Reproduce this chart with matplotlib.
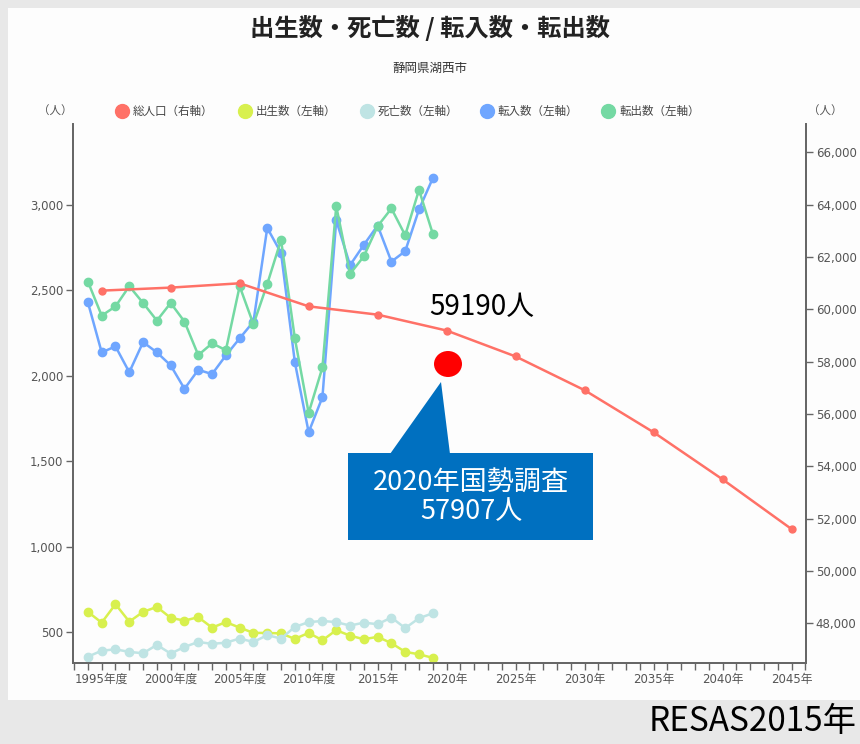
import matplotlib
matplotlib.use('Agg')
import matplotlib.pyplot as plt
from matplotlib.patches import Ellipse, Polygon, Rectangle
from matplotlib.lines import Line2D

plt.rcParams['font.family'] = ['DejaVu Sans', 'Noto Sans CJK JP']
JP = ['Noto Sans CJK JP', 'DejaVu Sans']
NARROW = ['Liberation Sans Narrow', 'Noto Sans CJK JP']

# annual data (left axis)
years = list(range(1994, 2020))
births = [619, 556, 664, 562, 619, 648, 584, 568, 588, 527, 559, 527, 496,
          496, 493, 461, 496, 453, 512, 480, 459, 473, 436, 385, 371, 350]
deaths = [357, 392, 400, 385, 377, 426, 375, 414, 443, 432, 439, 463, 443,
          483, 463, 531, 559, 566, 559, 539, 556, 547, 586, 524, 582, 611]
moved_in = [2430, 2137, 2172, 2021, 2197, 2137, 2061, 1924, 2035, 2010, 2119,
            2219, 2317, 2865, 2719, 2080, 1670, 1875, 2910, 2647, 2766, 2879,
            2668, 2729, 2973, 3156]
moved_out = [2551, 2352, 2406, 2524, 2426, 2323, 2426, 2317, 2121, 2190, 2150,
             2524, 2301, 2537, 2795, 2219, 1783, 2049, 2992, 2596, 2699, 2875,
             2979, 2822, 3088, 2830]

# total population (right axis)
pop_years = [1995, 2000, 2005, 2010, 2015, 2020, 2025, 2030, 2035, 2040, 2045]
population = [60716, 60831, 60996, 60115, 59797, 59190, 58200, 56909, 55301,
              53501, 51601]

tick_years = [1995, 2000, 2005, 2010, 2015, 2020, 2025, 2030, 2035, 2040, 2045]
tick_labels = ['1995年度', '2000年度', '2005年度', '2010年度', '2015年', '2020年',
               '2025年', '2030年', '2035年', '2040年', '2045年']

c_pop = '#ff7167'
c_birth = '#d8f04e'
c_death = '#bfe4e4'
c_in = '#6fa6ff'
c_out = '#74d9a3'
axis_c = '#666666'
text_c = '#555555'

fig = plt.figure(figsize=(8.6, 7.44), dpi=100)
fig.patch.set_facecolor('#e8e8e8')
fig.add_artist(Rectangle((8 / 860, 1 - 700 / 744), 852 / 860, 692 / 744,
                         transform=fig.transFigure, facecolor='#fdfdfd',
                         edgecolor='none', zorder=0))

ax = fig.add_axes([73 / 860, 1 - 663 / 744, 733 / 860, 539 / 744])
ax.set_facecolor('none')
ax2 = ax.twinx()

ax.plot(years, births, color=c_birth, lw=1.8, marker='o', ms=6, zorder=3)
ax.plot(years, deaths, color=c_death, lw=1.8, marker='o', ms=6, zorder=3)
ax.plot(years, moved_in, color=c_in, lw=1.8, marker='o', ms=6, zorder=3)
ax.plot(years, moved_out, color=c_out, lw=1.8, marker='o', ms=6, zorder=4)
ax2.plot(pop_years, population, color=c_pop, lw=1.8, marker='o', ms=5, zorder=5)

ax.set_xlim(1992.92, 2046.05)
ax.set_ylim(320, 3473)
ax2.set_ylim(46480, 67086)

ax.set_yticks([500, 1000, 1500, 2000, 2500, 3000])
ax.set_yticklabels(['500', '1,000', '1,500', '2,000', '2,500', '3,000'])
ax2.set_yticks(list(range(48000, 66001, 2000)))
ax2.set_yticklabels(['{:,}'.format(v) for v in range(48000, 66001, 2000)])

ax.set_xticks(tick_years)
ax.set_xticklabels(tick_labels)
ax.set_xticks(list(range(1993, 2047)), minor=True)

for a in (ax, ax2):
    a.spines['top'].set_visible(False)
    for s in ('left', 'right', 'bottom'):
        a.spines[s].set_color(axis_c)
        a.spines[s].set_linewidth(1.3)
ax.tick_params(axis='y', colors=axis_c, labelcolor=text_c, labelsize=8.5,
               length=5, width=1, pad=2)
ax2.tick_params(axis='y', colors=axis_c, labelcolor=text_c, labelsize=8.5,
                length=5, width=1, pad=2)
ax.tick_params(axis='x', which='both', colors=axis_c, labelcolor=text_c,
               labelsize=8.5, length=5, width=1, pad=2)

# header texts
fig.text(0.5, 1 - 28 / 744, '出生数・死亡数 / 転入数・転出数', ha='center', va='center',
         fontsize=17.5, fontweight='bold', color='#222222', family=JP)
fig.text(0.5, 1 - 68 / 744, '静岡県湖西市', ha='center', va='center',
         fontsize=9, color='#333333', family=JP)
fig.text(55 / 860, 1 - 111 / 744, '（人）', ha='center', va='center',
         fontsize=8.3, color=text_c, family=JP)
fig.text(825 / 860, 1 - 111 / 744, '（人）', ha='center', va='center',
         fontsize=8.3, color=text_c, family=JP)

legend_items = [('総人口（右軸）', c_pop, 122), ('出生数（左軸）', c_birth, 245),
                ('死亡数（左軸）', c_death, 367), ('転入数（左軸）', c_in, 487),
                ('転出数（左軸）', c_out, 608)]
for label, col, xc in legend_items:
    fig.add_artist(Line2D([xc / 860], [1 - 111 / 744], marker='o', ms=10,
                          color=col, lw=0, transform=fig.transFigure))
    fig.text((xc + 11) / 860, 1 - 111 / 744, label, ha='left', va='center',
             fontsize=8.3, color='#444444', family=JP)

# annotations
fig.text(482 / 860, 1 - 307 / 744, '59190人', ha='center', va='center',
         fontsize=20, color='black', family=NARROW)
fig.add_artist(Ellipse((448 / 860, 1 - 364 / 744), 28 / 860, 26 / 744,
                       transform=fig.transFigure, facecolor='#ff0000',
                       edgecolor='none', zorder=6))
fig.add_artist(Polygon([(441 / 860, 1 - 382 / 744), (390 / 860, 1 - 454 / 744),
                        (450 / 860, 1 - 454 / 744)], closed=True,
                       transform=fig.transFigure, facecolor='#0070c0',
                       edgecolor='none', zorder=6))
fig.add_artist(Rectangle((348 / 860, 1 - 540 / 744), 245 / 860, 87 / 744,
                         transform=fig.transFigure, facecolor='#0070c0',
                         edgecolor='none', zorder=6))
fig.text(471 / 860, 1 - 497 / 744, '2020年国勢調査\n57907人', ha='center',
         va='center', fontsize=19.5, color='white', family=NARROW,
         linespacing=1.15, zorder=7)

fig.text(857 / 860, 1 - 722 / 744, 'RESAS2015年', ha='right', va='center',
         fontsize=24, color='black', family=NARROW)

fig.savefig('out.png', dpi=100, facecolor=fig.get_facecolor())
